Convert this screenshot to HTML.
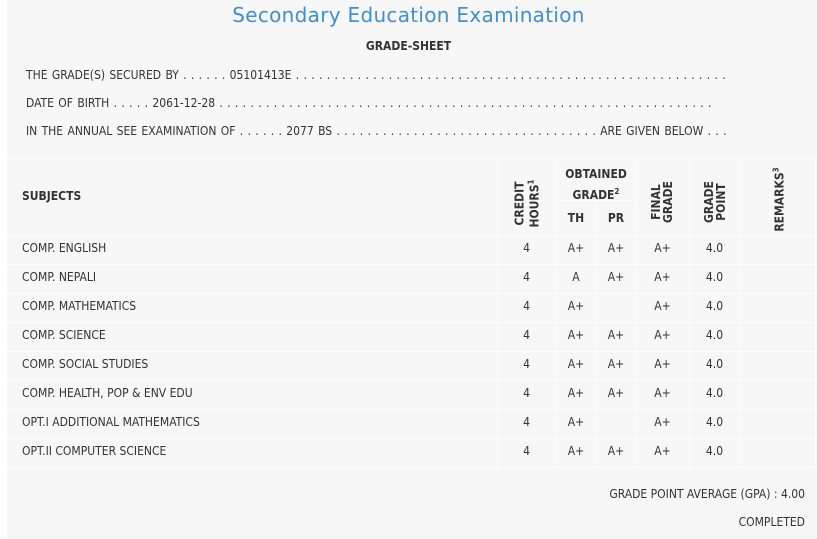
<!DOCTYPE html>
<html><head><meta charset="utf-8"><style>
*{margin:0;padding:0;box-sizing:border-box}
body{width:817px;height:539px;background:#fff;position:relative;overflow:hidden;font-family:"DejaVu Sans Condensed","DejaVu Sans","Liberation Sans",sans-serif;font-size:12px;color:#333}
.bg{position:absolute;left:7px;top:0;width:810px;height:539px;background:#f7f7f7}
.t{position:absolute;white-space:nowrap}
.d{word-spacing:0.9px}
.h{position:absolute;height:1px;background:#fff}
.v{position:absolute;width:1px;background:#fff}
.c{position:absolute;text-align:center;white-space:nowrap}
.r{position:absolute;transform:rotate(-90deg);text-align:center;font-weight:bold;line-height:12px;white-space:nowrap}
.b{font-weight:bold}
sup{font-size:8px}
</style></head><body>
<div class="bg"></div>
<div class="t" style="left:0;width:817px;text-align:center;top:3px;font-family:'DejaVu Sans','Liberation Sans',sans-serif;font-size:20px;color:#3d8fd8;letter-spacing:0.3px">Secondary Education Examination</div>
<div class="t b" style="left:0;width:817px;text-align:center;top:39px">GRADE-SHEET</div>
<div class="t d" style="left:26px;top:68px">THE GRADE(S) SECURED BY . . . . . . 05101413E . . . . . . . . . . . . . . . . . . . . . . . . . . . . . . . . . . . . . . . . . . . . . . . . . . . . . . . .</div>
<div class="t d" style="left:26px;top:96px">DATE OF BIRTH . . . . . 2061-12-28 . . . . . . . . . . . . . . . . . . . . . . . . . . . . . . . . . . . . . . . . . . . . . . . . . . . . . . . . . . . . . . . .</div>
<div class="t d" style="left:26px;top:124px">IN THE ANNUAL SEE EXAMINATION OF . . . . . . 2077 BS . . . . . . . . . . . . . . . . . . . . . . . . . . . . . . . . . . ARE GIVEN BELOW . . .</div>

<div class="h" style="left:7px;width:810px;top:158px"></div>
<div class="h" style="left:556px;width:80px;top:200px"></div>
<div class="h" style="left:7px;width:810px;top:235px"></div>
<div class="h" style="left:7px;width:810px;top:264px"></div>
<div class="h" style="left:7px;width:810px;top:293px"></div>
<div class="h" style="left:7px;width:810px;top:322px"></div>
<div class="h" style="left:7px;width:810px;top:351px"></div>
<div class="h" style="left:7px;width:810px;top:380px"></div>
<div class="h" style="left:7px;width:810px;top:409px"></div>
<div class="h" style="left:7px;width:810px;top:438px"></div>
<div class="h" style="left:7px;width:810px;top:467px"></div>
<div class="v" style="left:497px;top:158px;height:309px"></div>
<div class="v" style="left:556px;top:158px;height:309px"></div>
<div class="v" style="left:596px;top:200px;height:267px"></div>
<div class="v" style="left:636px;top:158px;height:309px"></div>
<div class="v" style="left:689px;top:158px;height:309px"></div>
<div class="v" style="left:740px;top:158px;height:309px"></div>
<div class="v" style="left:815px;top:158px;height:309px"></div>

<div class="t b" style="left:22px;top:189px">SUBJECTS</div>
<div class="r" style="left:497px;width:60px;top:190px">CREDIT<br>HOURS<sup>1</sup></div>
<div class="c b" style="left:556px;width:80px;top:166px;line-height:17px">OBTAINED<br>GRADE<sup>2</sup></div>
<div class="c b" style="left:556px;width:40px;top:211px">TH</div>
<div class="c b" style="left:596px;width:40px;top:211px">PR</div>
<div class="r" style="left:632px;width:60px;top:190px">FINAL<br>GRADE</div>
<div class="r" style="left:685px;width:60px;top:190px">GRADE<br>POINT</div>
<div class="r" style="left:738px;width:80px;top:192px">REMARKS<sup>3</sup></div>

<div id="rows"></div>
<div class="t" style="left:22px;top:241px">COMP. ENGLISH</div>
<div class="t" style="left:22px;top:270px">COMP. NEPALI</div>
<div class="t" style="left:22px;top:299px">COMP. MATHEMATICS</div>
<div class="t" style="left:22px;top:328px">COMP. SCIENCE</div>
<div class="t" style="left:22px;top:357px">COMP. SOCIAL STUDIES</div>
<div class="t" style="left:22px;top:386px">COMP. HEALTH, POP &amp; ENV EDU</div>
<div class="t" style="left:22px;top:415px">OPT.I ADDITIONAL MATHEMATICS</div>
<div class="t" style="left:22px;top:444px">OPT.II COMPUTER SCIENCE</div>
<script>
var th=["A+","A","A+","A+","A+","A+","A+","A+"],pr=["A+","A+","","A+","A+","A+","","A+"];
var h="";for(var i=0;i<8;i++){var y=241+29*i;
h+='<div class="c" style="left:497px;width:59px;top:'+y+'px">4</div>';
h+='<div class="c" style="left:556px;width:40px;top:'+y+'px">'+th[i]+'</div>';
h+='<div class="c" style="left:596px;width:40px;top:'+y+'px">'+pr[i]+'</div>';
h+='<div class="c" style="left:636px;width:53px;top:'+y+'px">A+</div>';
h+='<div class="c" style="left:689px;width:51px;top:'+y+'px">4.0</div>';}
document.getElementById("rows").innerHTML=h;
</script>
<div class="t" style="right:12px;top:487px">GRADE POINT AVERAGE (GPA) : 4.00</div>
<div class="t" style="right:12px;top:515px">COMPLETED</div>
</body></html>
